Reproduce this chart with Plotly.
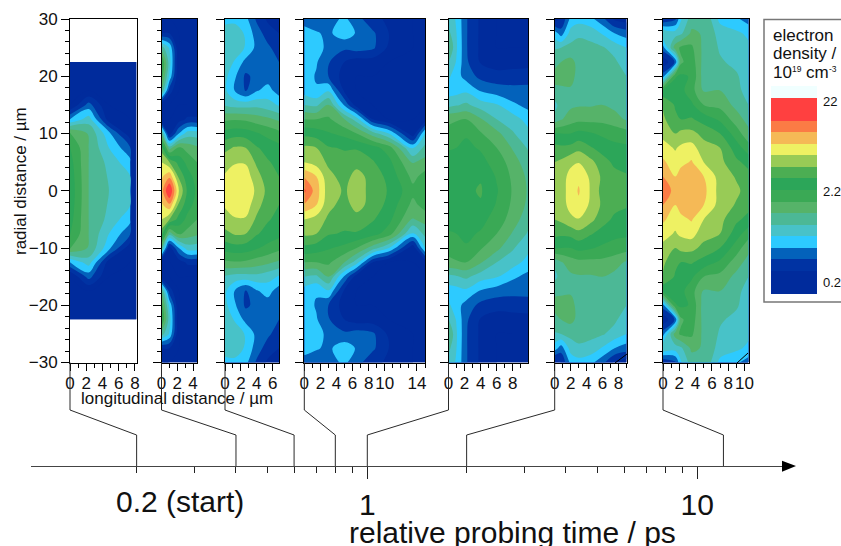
import math
import plotly.graph_objects as go

W, H = 841, 546

# y grid shared by the panels (upper half; profiles are mirrored about the axis)
radial = [0, 2.5, 5, 7.5, 10, 12.5, 15, 17.5, 20, 22.5, 25, 27.5, 30]

# values are positions on the colour key: one unit = one colour band (about 1.34x density)
p1_x = [0, 2.3, 4.8, 7.4, 7.5, 8.2]
p1_z = [
    [8.7, 6.0, 5.0, 4.4, 0, 0],
    [8.6, 6.0, 4.9, 4.1, 0, 0],
    [8.4, 6.0, 4.7, 3.3, 0, 0],
    [8.1, 6.0, 4.0, 2.2, 0, 0],
    [7.2, 5.9, 3.3, 0.3, 0, 0],
    [3.0, 4.5, 0.5, 0, 0, 0],
    [0, 2.4, 0, 0, 0, 0],
    [0, 0, 0, 0, 0, 0],
    [0, 0, 0, 0, 0, 0],
    [0, 0, 0, 0, 0, 0],
]
p2_x = [0, 1, 2.2, 3.3, 4.5]
p2_z = [
    [12.5, 15.2, 11.0, 8.8, 7.8],
    [11.8, 12.8, 9.8, 8.4, 7.6],
    [11.0, 10.0, 8.6, 7.7, 7.0],
    [9.5, 5.5, 7.2, 6.6, 6.2],
    [5.8, 0.5, 3.0, 4.5, 4.5],
    [0, 0, 0.5, 1.2, 1.2],
    [0.3, 0, 0, 0, 0],
    [6.0, 1.5, 0, 0, 0],
    [7.5, 3.8, 0, 0, 0],
    [8.2, 4.5, 0, 0, 0],
    [5.5, 3.9, 0, 0, 0],
    [1.0, 1.0, 0, 0, 0],
    [0, 0, 0, 0, 0],
]
p3_x = [0, 1.2, 2.6, 4.0, 5.4, 6.8]
p3_z = [
    [11.3, 11.6, 11.7, 10.8, 9.7, 9.3],
    [11.1, 11.5, 11.5, 10.4, 9.4, 9.0],
    [10.6, 10.9, 10.9, 9.8, 9.1, 8.7],
    [9.7, 10.1, 10.0, 9.1, 8.6, 8.3],
    [8.4, 8.6, 8.5, 8.1, 7.7, 7.3],
    [6.8, 6.9, 6.8, 6.5, 6.2, 5.8],
    [4.9, 4.6, 4.6, 4.7, 4.4, 3.9],
    [4.2, 3.0, 1.9, 2.9, 3.4, 2.5],
    [4.3, 3.2, 1.8, 2.3, 2.5, 2.1],
    [4.8, 3.9, 2.7, 2.4, 2.3, 2.0],
    [5.0, 4.7, 3.9, 2.7, 2.2, 1.5],
    [4.6, 4.8, 3.8, 2.5, 1.5, 1.0],
    [3.6, 3.6, 3.3, 1.8, 0.8, 0.5],
]
p4_x = [0, 1.5, 3, 5, 6.5, 8.5, 10.5, 13.5, 15]
p4_z = [
    [14.2, 12.5, 10.4, 9.9, 10.4, 9.7, 8.9, 7.3, 7.9],
    [12.9, 12.0, 10.3, 9.6, 10.4, 9.6, 8.7, 6.7, 7.4],
    [11.0, 10.6, 9.8, 9.4, 9.6, 9.1, 8.3, 5.9, 6.4],
    [10.2, 10.0, 9.1, 8.9, 8.9, 8.4, 7.5, 3.8, 5.3],
    [8.7, 8.5, 8.1, 7.7, 7.0, 5.5, 4.0, 0.3, 4.0],
    [7.0, 7.0, 7.2, 6.0, 4.5, 1.0, 0, 0, 0.4],
    [5.0, 4.8, 6.0, 2.8, 0.5, 0, 0, 0, 0],
    [3.6, 3.1, 3.9, 0.8, 0, 0, 0, 0, 0],
    [3.5, 2.9, 2.0, 0.5, 0, 0, 0, 0, 0],
    [3.6, 3.1, 2.1, 1.0, 0.5, 0.5, 0, 0, 0],
    [3.7, 3.3, 2.8, 2.2, 2.5, 2.2, 0.8, 0, 0],
    [3.4, 3.1, 2.8, 3.6, 2.9, 2.2, 1.0, 0, 0],
    [2.6, 2.4, 2.6, 3.2, 2.4, 1.3, 0.8, 0, 0],
]
p5_x = [0, 1, 2.2, 4, 6, 8, 9.9]
p5_z = [
    [8.7, 8.7, 8.8, 9.1, 8.1, 6.9, 5.9],
    [8.6, 8.6, 8.7, 8.9, 7.9, 6.8, 5.8],
    [8.4, 8.4, 8.5, 8.3, 7.6, 6.5, 5.4],
    [7.9, 8.0, 8.2, 7.9, 7.0, 5.9, 4.9],
    [7.3, 7.6, 7.9, 7.1, 6.3, 5.1, 4.3],
    [6.8, 6.9, 7.0, 6.1, 5.0, 4.5, 3.6],
    [4.7, 4.9, 5.2, 4.5, 4.1, 3.2, 2.7],
    [3.5, 3.6, 3.8, 2.9, 2.5, 2.3, 2.2],
    [4.2, 3.4, 2.6, 1.7, 1.4, 1.5, 1.7],
    [5.0, 3.9, 2.2, 0.9, 0.5, 0.5, 0.5],
    [6.2, 4.1, 2.1, 0.8, 0, 0, 0],
    [5.3, 4.0, 2.1, 0.8, 0, 0, 0],
    [4.5, 3.9, 2.1, 0.8, 0, 0, 0],
]
p6_x = [0, 0.8, 2, 3, 4.5, 6, 7.5, 9]
p6_z = [
    [10.4, 10.6, 11.4, 12.1, 10.9, 9.6, 9.4, 9.3],
    [10.4, 10.6, 11.3, 11.8, 10.8, 9.8, 9.3, 9.1],
    [10.0, 10.2, 10.8, 10.95, 10.3, 9.4, 8.8, 8.6],
    [9.3, 9.2, 9.3, 9.7, 9.1, 8.6, 8.2, 8.2],
    [8.1, 8.0, 8.0, 8.3, 8.1, 7.8, 7.7, 7.4],
    [5.3, 5.9, 6.5, 6.7, 6.7, 6.7, 6.3, 5.9],
    [4.7, 5.4, 5.8, 5.9, 5.9, 6.0, 5.8, 5.5],
    [5.8, 5.8, 5.8, 5.6, 5.6, 5.5, 5.5, 5.2],
    [6.3, 6.4, 6.5, 5.5, 5.5, 5.5, 5.4, 5.0],
    [5.7, 6.0, 6.3, 5.7, 5.5, 5.4, 5.2, 4.4],
    [4.9, 5.0, 5.3, 5.4, 5.3, 5.1, 4.6, 4.0],
    [3.5, 2.5, 4.4, 4.8, 4.6, 3.9, 3.0, 2.5],
    [0.5, 1.0, 3.3, 3.6, 3.3, 2.3, 0.8, 0.5],
]
p7_x = [0, 1.5, 2.2, 3.5, 5, 7, 9, 10.5]
p7_z = [
    [14.0, 12.5, 12.6, 12.9, 12.3, 10.6, 10.2, 9.6],
    [13.0, 12.0, 12.5, 12.7, 12.0, 10.6, 9.9, 9.3],
    [12.2, 11.4, 11.7, 12.1, 11.0, 10.3, 9.2, 8.7],
    [11.4, 10.9, 11.2, 11.4, 10.4, 10.0, 8.5, 7.4],
    [10.7, 10.0, 10.3, 10.3, 9.7, 9.0, 7.5, 6.3],
    [10.2, 9.2, 9.0, 9.1, 8.6, 7.8, 6.5, 5.6],
    [9.9, 8.9, 8.6, 8.2, 7.0, 6.7, 5.7, 5.0],
    [8.3, 8.5, 8.3, 7.4, 5.9, 6.0, 5.3, 4.6],
    [2.6, 7.9, 8.2, 7.9, 5.5, 5.7, 5.1, 4.6],
    [0.2, 2.1, 6.8, 7.6, 5.6, 5.1, 4.8, 4.5],
    [2.6, 6.5, 7.2, 7.2, 5.7, 4.9, 4.5, 4.2],
    [5.0, 4.5, 4.8, 6.2, 5.9, 4.6, 4.2, 3.8],
    [1.0, 1.8, 3.9, 5.5, 6.0, 3.7, 3.2, 2.5],
]

# colour key
key_edges = [-1, 1, 2, 3, 4, 5, 6, 7, 8, 9, 10, 11, 12, 13, 14, 16, 17]
key_colors = ["#002b9c", "#0033a3", "#0362bb", "#2dcaff", "#48c2c8", "#4cb896",
              "#56b369", "#3aa955", "#2ca659", "#4cae53", "#98cb56", "#eef163",
              "#f5b956", "#fb7b45", "#ff4040", "#f0ffff"]
key_tick_pos = [0, 7.84, 15.7]
key_tick_text = ["0.2", "2.2", "22"]

# timeline
probe_times = [0.2, 0.4, 0.6, 0.8, 1, 2, 12]
time_major = [1, 10]
time_minor = [0.2, 0.3, 0.4, 0.5, 0.6, 0.7, 0.8, 0.9, 2, 3, 4, 5, 6, 7, 8, 9]

panels = [
    (p1_x, p1_z, radial[:10], 70, 136.5, 8.2, [0, 2, 4, 6, 8]),
    (p2_x, p2_z, radial, 161.5, 197, 4.5, [0, 2, 4]),
    (p3_x, p3_z, radial, 225, 279, 6.8, [0, 2, 4, 6]),
    (p4_x, p4_z, radial, 304.3, 425, 15, [0, 2, 4, 6, 8, 10, 14]),
    (p5_x, p5_z, radial, 448.5, 528, 9.9, [0, 2, 4, 6, 8]),
    (p6_x, p6_z, radial, 554.7, 626.5, 9, [0, 2, 4, 6, 8]),
    (p7_x, p7_z, radial, 663, 748.5, 10.5, [0, 2, 4, 6, 8, 10]),
]

FONT = "Liberation Sans, Arial, sans-serif"
TOP, BOT = 19, 362.5
LINE_Y = 466


def fx(px):
    return px / W


def fy(py):
    return 1 - py / H


# discrete colour scale over the key range, one step per unit
zmin, zmax = -1, 17
n = zmax - zmin
unit_colors = []
for i in range(len(key_colors)):
    unit_colors += [key_colors[i]] * (key_edges[i + 1] - key_edges[i])
colorscale = []
for i, c in enumerate(unit_colors):
    colorscale += [[i / n, c], [(i + 1) / n, c]]

fig = go.Figure()
layout = dict(
    width=W, height=H, autosize=False,
    margin=dict(l=0, r=0, t=0, b=0, pad=0, autoexpand=False),
    paper_bgcolor="white", plot_bgcolor="white",
    font=dict(family=FONT, color="#111111"),
    showlegend=False,
)

shapes = []
annotations = []

for i, (xs, zs, ys, left, right, xmax, xticks) in enumerate(panels):
    k = i + 1
    suffix = "" if k == 1 else str(k)
    y_full = [-v for v in reversed(ys)] + ys[1:]
    z_full = [list(r) for r in reversed(zs)] + [list(r) for r in zs[1:]]
    fig.add_trace(go.Contour(
        x=xs, y=y_full, z=z_full,
        xaxis="x" + suffix, yaxis="y" + suffix,
        zmin=zmin, zmax=zmax, autocontour=False,
        contours=dict(start=zmin, end=zmax, size=1, coloring="fill", showlines=False),
        line=dict(width=0),
        colorscale=colorscale, showscale=False, hoverinfo="skip",
    ))
    layout["xaxis" + suffix] = dict(
        domain=[fx(left), fx(right)], anchor="y" + suffix, range=[0, xmax],
        tickmode="array", tickvals=xticks, ticktext=[str(t) for t in xticks],
        ticks="outside", ticklen=7, tickwidth=1, tickcolor="black",
        minor=dict(tickmode="linear", tick0=0, dtick=1, ticks="outside", ticklen=4,
                   tickwidth=1, tickcolor="black", showgrid=False),
        showline=True, linecolor="black", linewidth=1, mirror=True,
        showgrid=False, zeroline=False, tickangle=0,
        tickfont=dict(size=17, family=FONT, color="#111111"),
        ticklabelstandoff=-2,
    )
    layout["yaxis" + suffix] = dict(
        domain=[fy(BOT), fy(TOP)], anchor="x" + suffix, range=[-30, 30],
        tickmode="array", tickvals=[-30, -20, -10, 0, 10, 20, 30],
        showticklabels=(k == 1),
        ticks="outside", ticklen=8, tickwidth=1, tickcolor="black",
        minor=dict(tickmode="linear", tick0=-30, dtick=2, ticks="outside", ticklen=4,
                   tickwidth=1, tickcolor="black", showgrid=False),
        showline=True, linecolor="black", linewidth=1, mirror=True,
        showgrid=False, zeroline=False,
        tickfont=dict(size=17, family=FONT, color="#111111"),
    )

# timeline axis on a real log scale
T_LEFT, T_RIGHT = 31, 783
T1_PX, DECADE_PX = 367.3, 330.0


def t_px(t):
    return T1_PX + DECADE_PX * math.log10(t)


layout["xaxis8"] = dict(
    domain=[fx(T_LEFT), fx(T_RIGHT)], anchor="y8", type="log",
    range=[(T_LEFT - T1_PX) / DECADE_PX, (T_RIGHT - T1_PX) / DECADE_PX],
    tickmode="array", tickvals=time_major, ticktext=[str(t) for t in time_major],
    ticks="outside", ticklen=12, tickwidth=1, tickcolor="#222222",
    minor=dict(tickmode="array", tickvals=time_minor, ticks="outside", ticklen=6,
               tickwidth=1, tickcolor="#222222", showgrid=False),
    showline=True, linecolor="#444444", linewidth=1.3, showgrid=False, zeroline=False,
    tickfont=dict(size=30, family=FONT, color="#111111"),
    ticklabelstandoff=0,
)
layout["yaxis8"] = dict(domain=[fy(LINE_Y), fy(440)], anchor="x8", range=[0, 1], visible=False)
fig.add_trace(go.Scatter(x=[1], y=[0.5], xaxis="x8", yaxis="y8", mode="markers",
                         marker=dict(opacity=0), hoverinfo="skip"))

# key
key_levels = []
for i in range(len(key_colors)):
    key_levels.append([(key_edges[i] + key_edges[i + 1]) / 2])
fig.add_trace(go.Heatmap(
    x=[0, 1], y=key_edges, z=key_levels, xaxis="x9", yaxis="y9",
    zmin=zmin, zmax=zmax, colorscale=colorscale, showscale=False, hoverinfo="skip",
))
layout["xaxis9"] = dict(domain=[fx(771), fx(817)], anchor="y9", range=[0, 1], visible=False)
layout["yaxis9"] = dict(
    domain=[fy(294), fy(86)], anchor="x9", range=[-1, 17], side="right",
    tickmode="array", tickvals=key_tick_pos, ticktext=key_tick_text,
    ticks="", showline=False, showgrid=False, zeroline=False,
    tickfont=dict(size=13, family=FONT, color="#111111"),
    ticklabelstandoff=5,
)

# connectors from each panel to its time on the axis
conn_line = dict(color="#2a2a2a", width=1)
ELBOW_TOP, ELBOW_BOT = 410, 435
for (xs, zs, ys, left, right, xmax, xticks), t in zip(panels, probe_times):
    tx = t_px(t)
    path = (f"M {fx(left)} {fy(BOT)} L {fx(left)} {fy(ELBOW_TOP)} "
            f"L {fx(tx)} {fy(ELBOW_BOT)} L {fx(tx)} {fy(LINE_Y)}")
    shapes.append(dict(type="path", xref="paper", yref="paper", path=path, line=conn_line))

# arrow head
shapes.append(dict(type="path", xref="paper", yref="paper",
                   path=f"M {fx(782)} {fy(460.7)} L {fx(796)} {fy(LINE_Y)} L {fx(782)} {fy(471.7)} Z",
                   fillcolor="black", line=dict(width=0)))
# key frame (runs off the right edge)
shapes.append(dict(type="path", xref="paper", yref="paper",
                   path=f"M {fx(841)} {fy(19.5)} L {fx(764)} {fy(19.5)} L {fx(764)} {fy(302)} L {fx(841)} {fy(302)}",
                   line=dict(color="#777777", width=1.5)))
# small corner strokes at the bottom of the last two panels
for a, b, c, d in [(615, 363, 627, 354), (737, 363, 748, 353)]:
    shapes.append(dict(type="line", xref="paper", yref="paper",
                       x0=fx(a), y0=fy(b), x1=fx(c), y1=fy(d), line=dict(color="black", width=1)))


def text(s, x, y, size, anchor="left", angle=0):
    annotations.append(dict(text=s, x=fx(x), y=fy(y), xref="paper", yref="paper",
                            showarrow=False, xanchor=anchor, yanchor="middle", textangle=angle,
                            font=dict(size=size, family=FONT, color="#111111"),
                            borderpad=0, align="left"))


text("radial distance / µm", 21, 181, 17, "center", -90)
text("longitudinal distance / µm", 177, 398, 17, "center")
text("0.2 (start)", 180, 501, 30, "center")
text("relative probing time / ps", 512.5, 532, 30, "center")
text("electron", 772, 36, 17)
text("density /", 772, 54, 17)
text("10", 772, 73, 17)
text("19", 790.5, 69, 8.5)
text("cm", 805, 73, 17)
text("-3", 828, 69, 8.5)

layout["shapes"] = shapes
layout["annotations"] = annotations
fig.update_layout(**layout)
fig.write_html("out.html", config=dict(displayModeBar=False),
               post_script="document.body.style.margin='0';")
